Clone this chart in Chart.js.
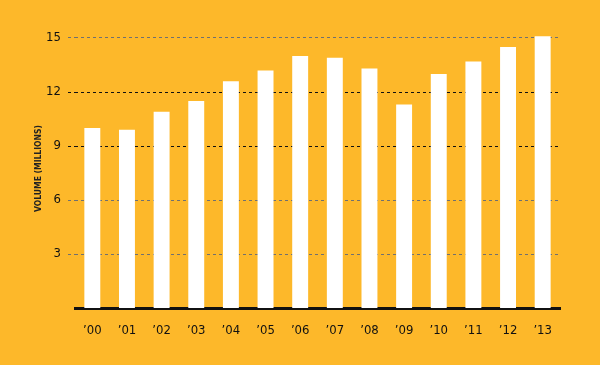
<!DOCTYPE html>
<html>
<head>
    <meta charset="utf-8" />
    <title>Volume by year</title>
    <script src="https://cdn.jsdelivr.net/npm/chart.js"></script>
    <style>
        html, body {
            margin: 0;
            padding: 0;
            background: #FDB82A;
        }
        #wrap {
            width: 600px;
            height: 365px;
        }
    </style>
</head>
<body>
    <div id="wrap"><canvas id="chart"></canvas></div>
    <script>
        // years on the x axis
        var years = ['\u201900', '\u201901', '\u201902', '\u201903', '\u201904', '\u201905', '\u201906',
                     '\u201907', '\u201908', '\u201909', '\u201910', '\u201911', '\u201912', '\u201913'];
        // volume in millions
        var volume = [10.0, 9.9, 10.9, 11.5, 12.6, 13.2, 14.0, 13.9, 13.3, 11.3, 13.0, 13.7, 14.5, 15.1];
        var yTicks = [3, 6, 9, 12, 15];

        var font = '"Liberation Sans Narrow", "DejaVu Sans Condensed", sans-serif';

        function lineColor(ctx) {
            var v = ctx.tick && ctx.tick.value;
            return (v === 9 || v === 12) ? '#111' : '#707070';
        }

        new Chart(document.getElementById('chart'), {
            type: 'bar',
            data: {
                labels: years,
                datasets: [{
                    data: volume,
                    backgroundColor: '#ffffff',
                    borderWidth: 0,
                    barPercentage: 0.46,
                    categoryPercentage: 1
                }]
            },
            options: {
                responsive: true,
                maintainAspectRatio: false,
                animation: false,
                layout: { padding: { left: 30, right: 40, top: 29, bottom: 0 } },
                plugins: {
                    legend: { display: false },
                    tooltip: { enabled: false }
                },
                scales: {
                    x: {
                        grid: { display: false },
                        border: { display: true, color: '#111', width: 3 },
                        ticks: {
                            color: '#111',
                            padding: 7,
                            font: { family: font, size: 13 }
                        },
                        afterFit: function(scale) { scale.height = 57; }
                    },
                    y: {
                        min: 0,
                        max: 15.5,
                        afterBuildTicks: function(scale) {
                            scale.ticks = yTicks.map(function(v) { return { value: v }; });
                        },
                        border: { display: false, dash: [3, 3] },
                        grid: {
                            color: lineColor,
                            lineWidth: 1,
                            drawTicks: true,
                            tickLength: 7,
                            tickBorderDash: [3, 3],
                            tickColor: lineColor
                        },
                        ticks: {
                            color: '#111',
                            padding: 7,
                            font: { family: font, size: 13 }
                        },
                        title: {
                            display: true,
                            text: 'VOLUME (MILLIONS)',
                            color: '#222',
                            padding: { top: 4, bottom: 0 },
                            font: { family: font, size: 8.5, weight: 'bold' }
                        },
                        afterFit: function(scale) { scale.width = 45; }
                    }
                }
            }
        });
    </script>
</body>
</html>
